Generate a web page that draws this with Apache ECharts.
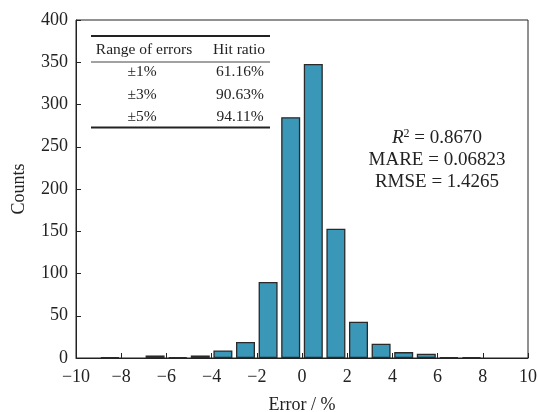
<!DOCTYPE html>
<html>
<head>
<meta charset="utf-8">
<script src="https://cdn.jsdelivr.net/npm/echarts@6/dist/echarts.min.js"></script>
<style>
  html, body { margin: 0; padding: 0; background: #fff; }
  #chart { width: 538px; height: 412px; }
</style>
</head>
<body>
<div id="chart"></div>
<script>
// histogram bins (centre of each 1% bin) and counts
const binCenters = [-8.5, -6.5, -5.5, -4.5, -3.5, -2.5, -1.5, -0.5, 0.5, 1.5, 2.5, 3.5, 4.5, 5.5, 6.5, 7.5];
const counts     = [1,    3,    1,    3,    9,    19,   90,   285,  348,  153,  43,   17,   7,    5,    1,    1];

// table in the upper left corner
const tableRanges = ['±1%', '±3%', '±5%'];
const tableHits = ['61.16%', '90.63%', '94.11%'];

const serif = '"Liberation Serif", "DejaVu Serif", serif';
const chart = echarts.init(document.getElementById('chart'));

const barData = binCenters.map((x, i) => [x, counts[i]]);

// table graphics
const tableEls = [
  { type: 'line', shape: { x1: 91, y1: 36, x2: 270, y2: 36 }, style: { stroke: '#222', lineWidth: 2 } },
  { type: 'text', x: 144, y: 50, style: { text: 'Range of errors', font: '15.5px ' + serif, fill: '#222', align: 'center', verticalAlign: 'middle' } },
  { type: 'text', x: 239, y: 50, style: { text: 'Hit ratio', font: '15.5px ' + serif, fill: '#222', align: 'center', verticalAlign: 'middle' } },
  { type: 'line', shape: { x1: 91, y1: 62, x2: 270, y2: 62 }, style: { stroke: '#444', lineWidth: 1 } },
  { type: 'line', shape: { x1: 91, y1: 127.5, x2: 270, y2: 127.5 }, style: { stroke: '#222', lineWidth: 2 } }
];
tableRanges.forEach((r, i) => {
  const y = 72 + i * 22.5;
  tableEls.push({ type: 'text', x: 142, y: y, style: { text: r, font: '15.5px ' + serif, fill: '#222', align: 'center', verticalAlign: 'middle' } });
  tableEls.push({ type: 'text', x: 240, y: y, style: { text: tableHits[i], font: '15.5px ' + serif, fill: '#222', align: 'center', verticalAlign: 'middle' } });
});

const option = {
  animation: false,
  grid: {
    left: 76, right: 10, top: 20, bottom: 54,
    outerBoundsMode: 'none',
    show: true, borderColor: '#222', borderWidth: 1
  },
  xAxis: {
    type: 'value',
    min: -10, max: 10, interval: 2,
    name: 'Error / %',
    nameLocation: 'middle',
    nameGap: 38,
    nameTextStyle: { fontFamily: serif, fontSize: 18, color: '#222' },
    axisLine: { show: true, onZero: false, lineStyle: { color: '#222', width: 1 } },
    axisTick: { show: true, inside: true, length: 5, lineStyle: { color: '#222' } },
    axisLabel: {
      fontFamily: serif, fontSize: 18, color: '#222', margin: 10,
      formatter: v => String(v).replace('-', '\u2212')
    },
    splitLine: { show: false }
  },
  yAxis: {
    type: 'value',
    min: 0, max: 400, interval: 50,
    name: 'Counts',
    nameLocation: 'middle',
    nameGap: 48,
    nameTextStyle: { fontFamily: serif, fontSize: 18, color: '#222' },
    axisLine: { show: true, onZero: false, lineStyle: { color: '#222', width: 1 } },
    axisTick: { show: true, inside: true, length: 5, lineStyle: { color: '#222' } },
    axisLabel: { fontFamily: serif, fontSize: 18, color: '#222', margin: 8 },
    splitLine: { show: false }
  },
  series: [{
    type: 'bar',
    data: barData,
    barWidth: 19,
    itemStyle: { color: '#3b97b8', borderColor: '#2a2a2a', borderWidth: 1.3 }
  }],
  graphic: tableEls.concat([
    {
      type: 'text', x: 437, y: 138,
      style: {
        text: '{i|R}{sup|2} = 0.8670',
        font: '19px ' + serif, fill: '#222', align: 'center', verticalAlign: 'middle',
        rich: {
          i: { fontFamily: serif, fontSize: 19, fontStyle: 'italic', fill: '#222' },
          sup: { fontFamily: serif, fontSize: 12, fill: '#222', verticalAlign: 'top', padding: [0, 0, 8, 0] }
        }
      }
    },
    { type: 'text', x: 437, y: 160, style: { text: 'MARE = 0.06823', font: '19px ' + serif, fill: '#222', align: 'center', verticalAlign: 'middle' } },
    { type: 'text', x: 437, y: 182, style: { text: 'RMSE = 1.4265', font: '19px ' + serif, fill: '#222', align: 'center', verticalAlign: 'middle' } }
  ])
};

chart.setOption(option);
</script>
</body>
</html>
